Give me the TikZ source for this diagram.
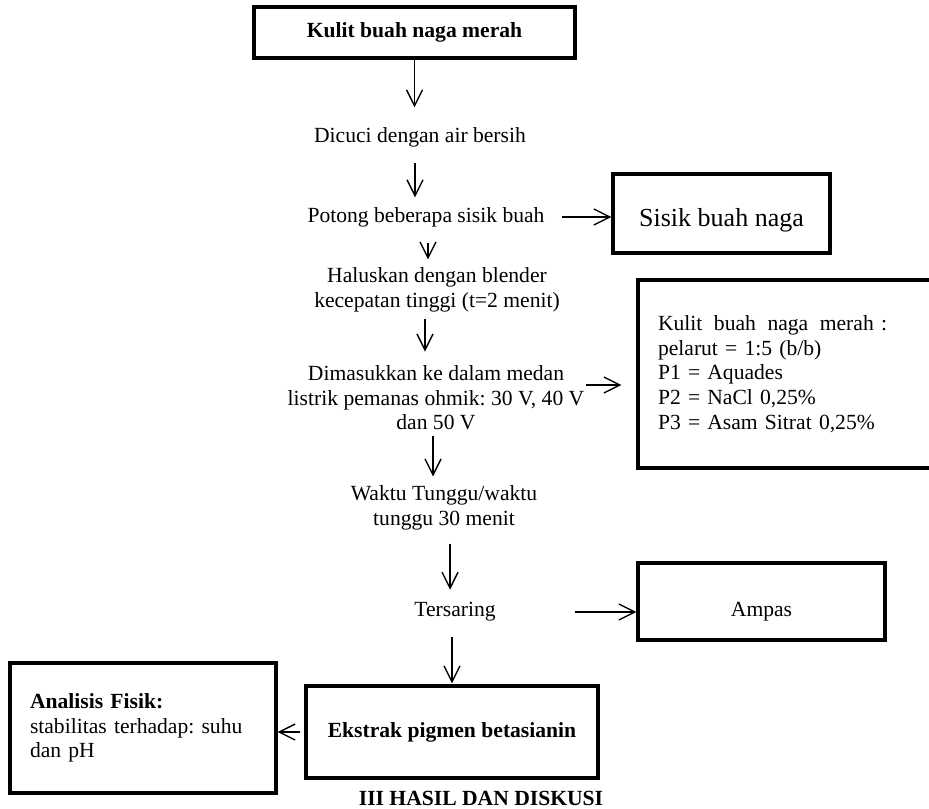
\documentclass[tikz,border=0pt]{standalone}
\usepackage{fontspec}
\setmainfont{Liberation Serif}
\usetikzlibrary{arrows.meta}
\newcommand\bodyfont{\fontsize{10.8}{12.3}\selectfont\frenchspacing}

\begin{document}
\begin{tikzpicture}[x=0.5pt,y=-0.5pt,font=\bodyfont,
  box/.style={draw, line width=1.6pt, inner sep=0pt, align=center},
  txt/.style={inner sep=0pt, align=center},
  arr/.style={-{Straight Barb[length=8pt,width=8pt]}, line width=0.7pt}]
\useasboundingbox (0,0) rectangle (929,808);
\node[box, minimum width=160.5pt, minimum height=25.5pt, font=\bodyfont\bfseries] (kulit) at (414.5,32.5) {Kulit buah naga merah};
\node[txt] (cuci) at (420,137) {Dicuci dengan air bersih};
\node[txt] (potong) at (426,217) {Potong beberapa sisik buah};
\node[box, minimum width=108.5pt, minimum height=39.5pt, font=\fontsize{13}{15}\selectfont, text height=15.4pt] (sisik) at (721.5,213.5) {Sisik buah naga};
\node[txt] (haluskan) at (437,290) {Haluskan dengan blender\\kecepatan tinggi (t=2 menit)};
\node[txt] (ohmik) at (436,398) {Dimasukkan ke dalam medan\\listrik pemanas ohmik: 30 V, 40 V\\dan 50 V};
\node[box, minimum width=148pt, minimum height=94pt, inner xsep=10pt, text width=128pt, align=left] (rasio) at (786,374) {\makebox[114.5pt][l]{Kulit\hfill buah\hfill naga\hfill merah :}\\pelarut = 1:5 (b/b)\\P1 = Aquades\\P2 = NaCl 0,25\%\\P3 = Asam Sitrat 0,25\%};
\node[txt] (tunggu) at (444,508) {Waktu Tunggu/waktu\\tunggu 30 menit};
\node[txt] (saring) at (455,612) {Tersaring};
\node[box, minimum width=123.5pt, minimum height=38.5pt, text height=17pt] (ampas) at (761.5,601.5) {Ampas};
\node[box, minimum width=146pt, minimum height=46pt, font=\bodyfont\bfseries] (ekstrak) at (452,732) {Ekstrak pigmen betasianin};
\node[box, minimum width=133pt, minimum height=65pt, inner xsep=10pt, text width=113pt, align=left] (analisis) at (143,728) {\textbf{Analisis Fisik:}\\stabilitas terhadap: suhu\\dan pH};
\node[txt, font=\bodyfont\bfseries] (hasil) at (481,798) {III HASIL DAN DISKUSI};
\draw[arr, shorten >=9.7pt] (kulit.south) -- (kulit.south |- cuci.north);
\draw[arr, shorten <=7.7pt, shorten >=4.7pt] ([xshift=-2.5pt]cuci.south) -- ([xshift=-2.5pt]cuci.south |- potong.north);
\draw[arr, shorten <=7.7pt, shorten >=4pt] ([xshift=1pt]potong.south) -- ([xshift=1pt]potong.south |- haluskan.north);
\draw[arr, shorten <=3pt, shorten >=6.9pt] ([xshift=-6pt]haluskan.south) -- ([xshift=-6pt]haluskan.south |- ohmik.north);
\draw[arr, shorten <=2.9pt, shorten >=4.5pt] ([xshift=-1.5pt]ohmik.south) -- ([xshift=-1.5pt]ohmik.south |- tunggu.north);
\draw[arr, shorten <=6.5pt, shorten >=6.2pt] ([xshift=3pt]tunggu.south) -- ([xshift=3pt]tunggu.south |- saring.north);
\draw[arr, shorten <=7.7pt, shorten >=0.5pt] (saring.south -| ekstrak.north) -- (ekstrak.north);
\draw[arr, shorten <=8.5pt] (potong.east) -- (potong.east -| sisik.west);
\draw[arr, shorten <=0.5pt, shorten >=7.5pt] ([yshift=6.5pt]ohmik.east) -- ([yshift=6.5pt]ohmik.east -| rasio.west);
\draw[arr, shorten <=39.5pt] (saring.east) -- (saring.east -| ampas.west);
\draw[arr, shorten <=2pt] (ekstrak.west) -- (analisis.east |- ekstrak.west);
\end{tikzpicture}
\end{document}
